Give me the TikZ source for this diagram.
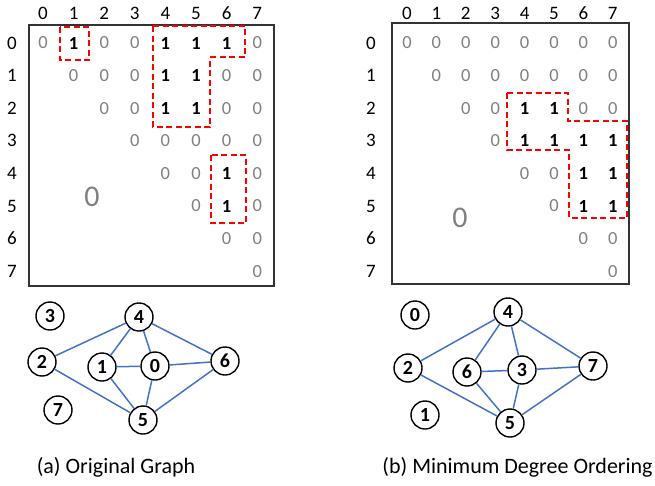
\documentclass[tikz,border=0pt]{standalone}
\usepackage{fontspec}
\setmainfont{Carlito}
\definecolor{zerogray}{RGB}{128,128,128}
\definecolor{edgeblue}{RGB}{68,114,196}
\definecolor{markred}{RGB}{255,0,0}
\begin{document}
\begin{tikzpicture}[x=1pt,y=-1pt,
  lbl/.style={font=\fontsize{19}{19}\selectfont},
  v0/.style={font=\fontsize{18.5}{18.5}\selectfont, text=zerogray},
  v1/.style={font=\fontsize{18.5}{18.5}\selectfont\bfseries},
  bigzero/.style={font=\fontsize{30}{30}\selectfont, text=zerogray},
  frame/.style={draw=black!80, line width=1.2pt},
  redmark/.style={draw=markred, line width=2.4pt, dash pattern=on 6pt off 3.5pt},
  vertex/.style={circle, draw, line width=1.4pt, minimum size=28pt, inner sep=0pt,
                 font=\fontsize{20}{20}\selectfont\bfseries},
  link/.style={draw=edgeblue, line width=1.5pt},
  caption/.style={font=\fontsize{22}{22}\selectfont}
]
\useasboundingbox (0,0) rectangle (655,485);

% ---------- (a) matrix of the original ordering ----------
\draw[frame] (29,25) rectangle (274,286);
\foreach \k in {0,...,7} {
  \node[lbl] (ha\k) at ({43+30.6*\k},13) {\k};
  \node[lbl] (ra\k) at (12,{43+32.6*\k}) {\k};
}
\foreach \r/\vals in {0/{0,1,0,0,1,1,1,0}, 1/{0,0,0,1,1,0,0}, 2/{0,0,1,1,0,0},
                      3/{0,0,0,0,0}, 4/{0,0,1,0}, 5/{0,1,0}, 6/{0,0}, 7/{0}} {
  \foreach \v [count=\k from \r] in \vals
    \node[v\v] (ma-\r-\k) at ({43+30.6*\k},{43+32.6*\r}) {\v};
}
\node[bigzero] (za) at (92,197) {0};
\draw[redmark] (60,27) rectangle (89,60);
\draw[redmark] (153,26) -- (245,26) -- (245,57) -- (210,57) -- (210,127) -- (153,127) -- cycle;
\draw[redmark] (211,155) rectangle (246,223);

% ---------- (b) matrix after minimum degree ordering ----------
\draw[frame] (392,23) rectangle (629,284);
\foreach \k in {0,...,7} {
  \node[lbl] (hb\k) at ({407+29.4*\k},13) {\k};
  \node[lbl] (rb\k) at (371,{43+32.6*\k}) {\k};
}
\foreach \r/\vals in {0/{0,0,0,0,0,0,0,0}, 1/{0,0,0,0,0,0,0}, 2/{0,0,1,1,0,0},
                      3/{0,1,1,1,1}, 4/{0,0,1,1}, 5/{0,1,1}, 6/{0,0}, 7/{0}} {
  \foreach \v [count=\k from \r] in \vals
    \node[v\v] (mb-\r-\k) at ({407+29.4*\k},{43+32.6*\r}) {\v};
}
\node[bigzero] (zb) at (460,218) {0};
\draw[redmark] (507,93) -- (568,93) -- (568,121) -- (627,121) -- (627,218)
  -- (569,218) -- (569,150) -- (507,150) -- cycle;

% ---------- (a) original graph ----------
\node[vertex] (a3) at (50,316) {3};
\node[vertex] (a4) at (139,317) {4};
\node[vertex] (a2) at (42,362) {2};
\node[vertex] (a1) at (102,367) {1};
\node[vertex] (a0) at (155,366) {0};
\node[vertex] (a6) at (225,361) {6};
\node[vertex] (a7) at (58,410) {7};
\node[vertex] (a5) at (143,420) {5};
\foreach \u/\w in {2/4, 2/5, 4/1, 4/0, 4/6, 1/0, 1/5, 0/5, 0/6, 5/6}
  \draw[link] (a\u) -- (a\w);
\node[caption] (capa) at (116,467) {(a) Original Graph};

% ---------- (b) reordered graph ----------
\node[vertex] (b0) at (415,315) {0};
\node[vertex] (b4) at (508,312) {4};
\node[vertex] (b2) at (408,368) {2};
\node[vertex] (b6) at (467,372) {6};
\node[vertex] (b3) at (522,370) {3};
\node[vertex] (b7) at (593,366) {7};
\node[vertex] (b1) at (425,415) {1};
\node[vertex] (b5) at (510,423) {5};
\foreach \u/\w in {2/4, 2/5, 4/6, 4/3, 4/7, 6/3, 6/5, 3/5, 3/7, 5/7}
  \draw[link] (b\u) -- (b\w);
\node[caption] (capb) at (517.5,467) {(b) Minimum Degree Ordering};
\end{tikzpicture}
\end{document}
